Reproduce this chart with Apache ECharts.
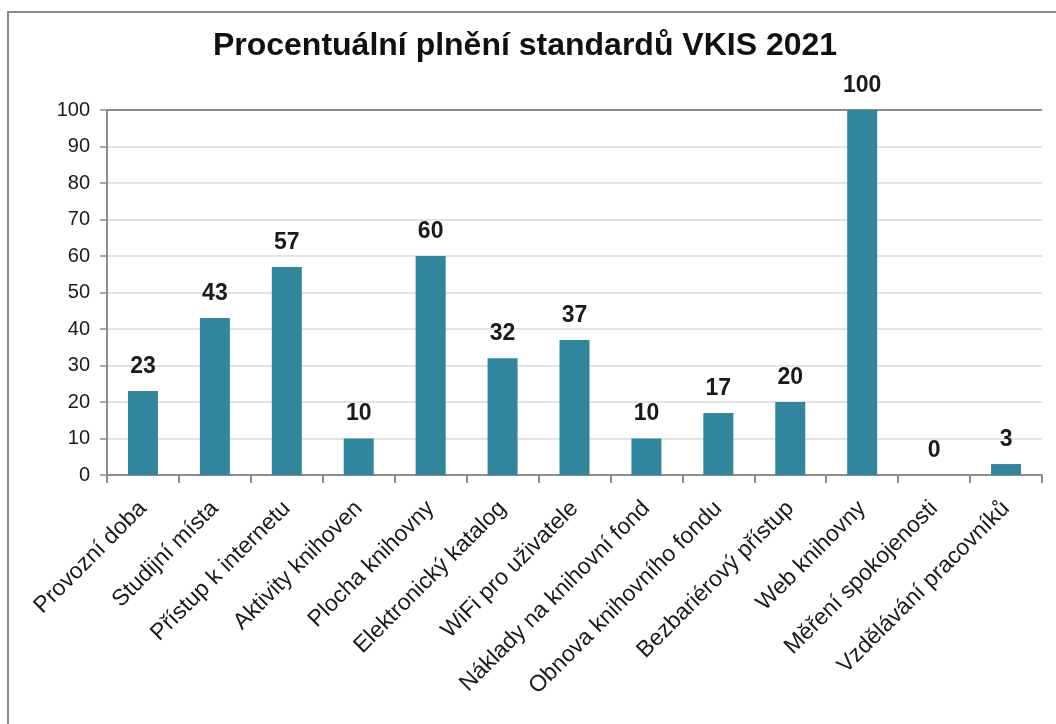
<!DOCTYPE html>
<html><head><meta charset="utf-8">
<script src="https://cdn.jsdelivr.net/npm/echarts@6/dist/echarts.min.js"></script>
<style>html,body{margin:0;padding:0;background:#fff}#c{width:1056px;height:724px}</style>
</head><body><div id="c"></div>
<script>
const titleText = 'Procentuální plnění standardů VKIS 2021';
const categories = ['Provozní doba','Studijní místa','Přístup k internetu','Aktivity knihoven','Plocha knihovny','Elektronický katalog','WiFi pro uživatele','Náklady na knihovní fond','Obnova knihovního fondu','Bezbariérový přístup','Web knihovny','Měření spokojenosti','Vzdělávání pracovníků'];
const values = [23,43,57,10,60,32,37,10,17,20,100,0,3];
const yMin = 0, yMax = 100, yStep = 10;

const gridColors = [];
for (let v = yMin; v <= yMax; v += yStep) gridColors.push(v === yMax ? '#8c8c8c' : '#e3e3e3');

const chart = echarts.init(document.getElementById('c'), null, {renderer:'canvas'});
chart.setOption({
  animation:false,
  backgroundColor:'#fff',
  title:{text:titleText,left:520,textAlign:'center',top:25,
    textStyle:{fontFamily:'Liberation Sans',fontWeight:'bold',fontSize:32,color:'#111'}},
  graphic:[{type:'rect',shape:{x:8,y:12,width:1200,height:900},style:{fill:'none',stroke:'#8c8c8c',lineWidth:2},silent:true}],
  grid:{left:107,right:14,top:110,bottom:249,containLabel:false},
  xAxis:{type:'category',data:categories,
    axisLine:{lineStyle:{color:'#8c8c8c',width:2}},
    axisTick:{show:true,length:8,lineStyle:{color:'#8c8c8c',width:2}},
    axisLabel:{rotate:45,margin:30,interval:0,fontFamily:'Liberation Sans',fontSize:23,color:'#1a1a1a'}},
  yAxis:{type:'value',min:yMin,max:yMax,interval:yStep,
    axisLine:{show:true,lineStyle:{color:'#8c8c8c',width:2}},
    axisTick:{show:true,length:7,lineStyle:{color:'#8c8c8c',width:1.5}},
    splitLine:{show:true,lineStyle:{color:gridColors,width:2}},
    axisLabel:{margin:17,fontFamily:'Liberation Sans',fontSize:20,color:'#1a1a1a'}},
  series:[{type:'bar',data:values,barWidth:30,
    itemStyle:{color:'#31859C'},
    label:{show:true,position:'top',distance:13,fontFamily:'Liberation Sans',fontWeight:'bold',fontSize:23,color:'#1a1a1a'}}]
});
</script></body></html>
